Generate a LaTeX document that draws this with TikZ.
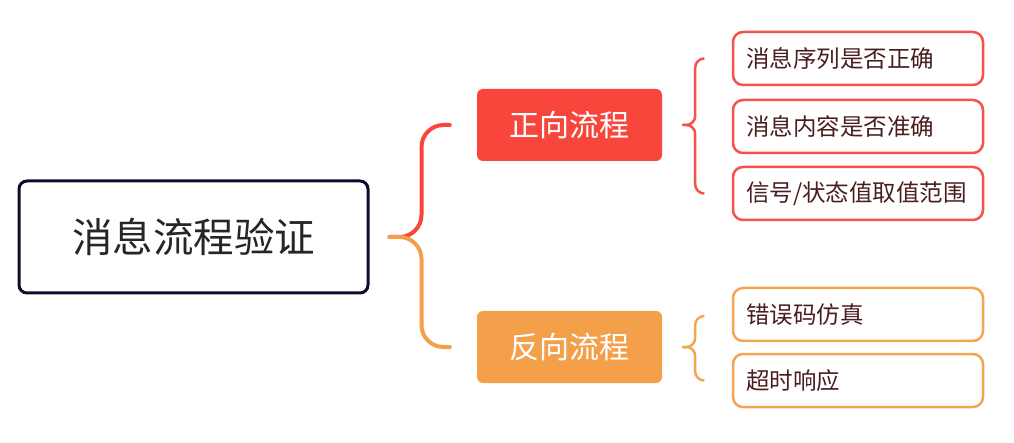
\documentclass[tikz,border=0pt]{standalone}
\usepackage{fontspec}
\setmainfont{Noto Sans CJK SC}
\definecolor{cRed}{HTML}{F8463C}
\definecolor{cOrg}{HTML}{F4A04A}
\definecolor{cRedL}{HTML}{F5524A}
\definecolor{cOrgL}{HTML}{F5A454}
\definecolor{cNavy}{HTML}{0C0C2E}
\definecolor{cTxt}{HTML}{4A1E1E}
\tikzset{
  rootbox/.style={draw=cNavy, line width=3pt, rounded corners=8pt, minimum width=349pt, minimum height=112pt, font=\fontsize{40.5}{42}\selectfont, text=black!85, inner sep=0pt},
  midbox/.style={rounded corners=6pt, minimum width=185pt, minimum height=72pt, font=\fontsize{30}{32}\selectfont, text=white, inner sep=0pt},
  leafbox/.style={line width=2.5pt, rounded corners=10pt, minimum width=250pt, minimum height=53pt, font=\fontsize{23.5}{25}\selectfont, text=cTxt, inner sep=0pt, text width=224pt, align=left},
  bigbrace/.style={line width=4pt, rounded corners=22pt, line cap=round},
  smallbrace/.style={line width=2.5pt, rounded corners=9pt, line cap=round}
}
\begin{document}
\begin{tikzpicture}[x=1pt,y=-1pt]
\useasboundingbox (0,0) rectangle (1014,443);
\node[rootbox] (root) at (193.5,237) {消息流程验证};
\node[midbox, fill=cRed] (fwd) at (569.5,125) {正向流程};
\node[midbox, fill=cOrg] (bwd) at (569.5,347) {反向流程};
\node[leafbox, draw=cRedL] (a1) at (858,58.5) {消息序列是否正确};
\node[leafbox, draw=cRedL] (a2) at (858,126.5) {消息内容是否准确};
\node[leafbox, draw=cRedL] (a3) at (858,193.5) {信号/状态值取值范围};
\node[leafbox, draw=cOrgL] (b1) at (858,314.5) {错误码仿真};
\node[leafbox, draw=cOrgL] (b2) at (858,380.5) {超时响应};
% big brace
\coordinate (tip) at ([xshift=20pt]root.east);
\draw[bigbrace, cRed] (tip) -- ++(32,0) |- ([xshift=-27pt]fwd.west);
\draw[bigbrace, cOrg] (tip) -- ++(32,0) |- ([xshift=-27pt]bwd.west);
% small braces
\coordinate (ta) at ([xshift=21pt]fwd.east);
\draw[smallbrace, cRedL] (ta) -- ++(12,0) |- ([xshift=-28pt]a1.west);
\draw[smallbrace, cRedL] (ta) -- ++(12,0) |- ([xshift=-28pt]a3.west);
\coordinate (tb) at ([xshift=21pt]bwd.east);
\draw[smallbrace, cOrgL] (tb) -- ++(12,0) |- ([xshift=-28pt,yshift=-1.5pt]b1.west);
\draw[smallbrace, cOrgL] (tb) -- ++(12,0) |- ([xshift=-28pt]b2.west);
\end{tikzpicture}
\end{document}
